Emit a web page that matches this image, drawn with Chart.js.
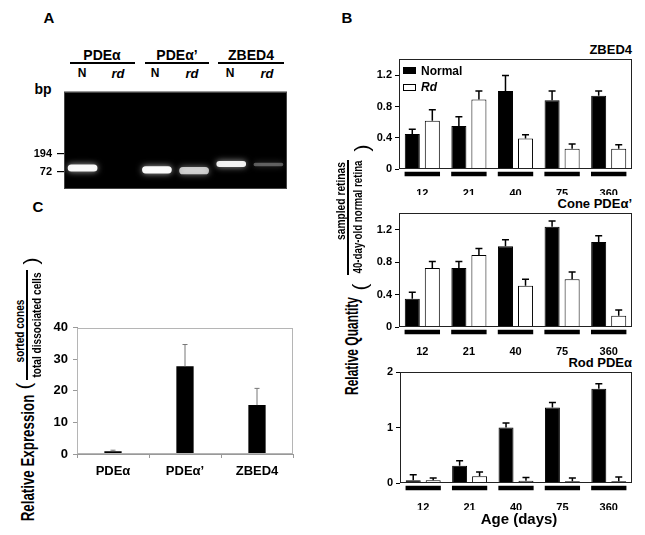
<!DOCTYPE html>
<html>
<head>
<meta charset="utf-8">
<script src="https://cdn.jsdelivr.net/npm/chart.js@4.4.0/dist/chart.umd.min.js"></script>
<style>
html, body { margin: 0; padding: 0; background: #fff; }
#wrap { position: relative; width: 645px; height: 535px; overflow: hidden; font-family: "Liberation Sans", Arial, Helvetica, sans-serif; color: #000; }
canvas { position: absolute; }
.t { position: absolute; white-space: nowrap; font-weight: bold; line-height: 1; transform: translate(-50%, -50%); }
.r { transform: translate(-100%, -50%); }
.l { transform: translate(0, -50%); }
.i { font-style: italic; }
.rule { position: absolute; height: 1.5px; background: #000; }
.vrule { position: absolute; width: 1.5px; background: #000; }
.rot { position: absolute; white-space: nowrap; font-weight: bold; line-height: 1; transform: translate(-50%, -50%) rotate(-90deg); }
.par { font-weight: normal; font-size: 21px; }
.key { position: absolute; width: 13px; height: 7px; border: 1px solid #000; box-sizing: border-box; }
</style>
</head>
<body>
<div id="wrap">
  <!-- panel letters -->
  <div class="t" style="left:49px;top:17px;font-size:15px">A</div>
  <div class="t" style="left:347px;top:17px;font-size:15px">B</div>
  <div class="t" style="left:38px;top:206px;font-size:15px">C</div>

  <!-- panel A header -->
  <div class="t" style="left:102px;top:55px;font-size:14px">PDEα</div>
  <div class="t" style="left:177px;top:55px;font-size:14px">PDEα’</div>
  <div class="t" style="left:251px;top:55px;font-size:14px">ZBED4</div>
  <div class="rule" style="left:70px;top:62px;width:65px"></div>
  <div class="rule" style="left:145px;top:62px;width:64px"></div>
  <div class="rule" style="left:218px;top:62px;width:66px"></div>
  <div class="t" style="left:82px;top:73px;font-size:12px">N</div>
  <div class="t i" style="left:118px;top:73px;font-size:13px">rd</div>
  <div class="t" style="left:155px;top:73px;font-size:12px">N</div>
  <div class="t i" style="left:192px;top:73px;font-size:13px">rd</div>
  <div class="t" style="left:230px;top:73px;font-size:12px">N</div>
  <div class="t i" style="left:267px;top:73px;font-size:13px">rd</div>
  <div class="t" style="left:43px;top:89px;font-size:14px">bp</div>
  <canvas id="gel" width="300" height="120" style="left:0;top:80px"></canvas>

  <!-- panel B -->
  <div class="t r" style="left:632px;top:49px;font-size:13px">ZBED4</div>
  <div class="t r" style="left:632px;top:203px;font-size:13px">Cone PDEα’</div>
  <div class="t r" style="left:632px;top:362px;font-size:13px">Rod PDEα</div>
  <canvas id="zbed" width="275" height="155" style="left:365px;top:40px"></canvas>
  <canvas id="cone" width="275" height="160" style="left:365px;top:195px"></canvas>
  <canvas id="rod" width="274" height="155" style="left:366px;top:355px"></canvas>
  <div class="key" style="left:403px;top:67px;background:#000"></div>
  <div class="t l" style="left:421px;top:71px;font-size:12px">Normal</div>
  <div class="key" style="left:403px;top:84px;background:#fff"></div>
  <div class="t l i" style="left:421px;top:87px;font-size:12px">Rd</div>
  <div class="t" style="left:519px;top:518px;font-size:15px">Age (days)</div>

  <!-- rotated axis title, panel B -->
  <div class="rot" data-len="98" style="left:352px;top:346px;font-size:18px">Relative Quantity</div>
  <div class="rot par" style="left:359px;top:287px">(</div>
  <div class="rot" data-len="78" style="left:340px;top:201px;font-size:13px">sampled retinas</div>
  <div class="vrule" style="left:347px;top:160px;height:115px"></div>
  <div class="rot" data-len="113" style="left:357px;top:217px;font-size:13px">40-day-old normal retina</div>
  <div class="rot par" style="left:361px;top:148px">)</div>

  <!-- panel C -->
  <canvas id="sorted" width="265" height="170" style="left:40px;top:315px"></canvas>
  <div class="rot" data-len="127" style="left:27px;top:458px;font-size:19px">Relative Expression</div>
  <div class="rot par" style="left:23px;top:386px">(</div>
  <div class="rot" data-len="63" style="left:19px;top:331px;font-size:13px">sorted cones</div>
  <div class="vrule" style="left:26px;top:270px;height:110px"></div>
  <div class="rot" data-len="105" style="left:36px;top:325px;font-size:13px">total dissociated cells</div>
  <div class="rot par" style="left:30px;top:261px">)</div>
</div>

<script>
// ---- data: gel (band span in bp, relative brightness) ----
const gelLanes = ['PDEα N', 'PDEα rd', 'PDEα’ N', 'PDEα’ rd', 'ZBED4 N', 'ZBED4 rd'];
const gelBands = [[72, 121], null, [59, 109], [53, 103], [103, 145], [109, 133]];
const gelIntensity = [0.95, 0, 0.97, 0.72, 0.92, 0.32];
const gelTicks = [72, 194];

// ---- data: panel B ----
const ages = ['12', '21', '40', '75', '360'];

const zbedNormal = [0.45, 0.55, 1.0, 0.88, 0.94];
const zbedNormalErr = [0.06, 0.12, 0.2, 0.12, 0.06];
const zbedRd = [0.62, 0.89, 0.39, 0.26, 0.26];
const zbedRdErr = [0.14, 0.11, 0.05, 0.06, 0.05];
const zbedTicks = [0, 0.4, 0.8, 1.2];

const coneNormal = [0.35, 0.73, 1.0, 1.24, 1.05];
const coneNormalErr = [0.08, 0.08, 0.08, 0.07, 0.08];
const coneRd = [0.73, 0.89, 0.51, 0.59, 0.14];
const coneRdErr = [0.08, 0.08, 0.08, 0.09, 0.07];
const coneTicks = [0, 0.4, 0.8, 1.2];

const rodNormal = [0.05, 0.31, 1.0, 1.36, 1.7];
const rodNormalErr = [0.1, 0.09, 0.08, 0.09, 0.09];
const rodRd = [0.05, 0.12, 0.04, 0.03, 0.03];
const rodRdErr = [0.04, 0.08, 0.06, 0.06, 0.08];
const rodTicks = [0, 1, 2];

// ---- data: panel C ----
const sortGenes = ['PDEα', 'PDEα’', 'ZBED4'];
const sortExpr = [0.9, 27.8, 15.5];
const sortErr = [0.3, 6.9, 5.3];
const sortTicks = [0, 10, 20, 30, 40];
const sortMinor = [5, 15, 25, 35];

const FONT = '"Liberation Sans", Arial, Helvetica, sans-serif';

// squeeze rotated axis titles to the length they have in the figure
document.querySelectorAll('.rot[data-len]').forEach(el => {
  const k = parseFloat(el.dataset.len) / el.offsetWidth;
  el.style.transform = `translate(-50%, -50%) rotate(-90deg) scaleX(${k})`;
});

// ---- plugins ----
const errorBars = {
  id: 'errorBars',
  afterDatasetsDraw(chart, args, o) {
    const ctx = chart.ctx;
    const y = chart.scales.y;
    chart.data.datasets.forEach((ds, i) => {
      if (!ds.errors) return;
      chart.getDatasetMeta(i).data.forEach((bar, j) => {
        const top = y.getPixelForValue(ds.data[j] + ds.errors[j]);
        ctx.save();
        ctx.strokeStyle = o.color || '#000';
        ctx.lineWidth = o.width || 1;
        ctx.beginPath();
        ctx.moveTo(bar.x, bar.y);
        ctx.lineTo(bar.x, top);
        ctx.moveTo(bar.x - (o.cap || 3), top);
        ctx.lineTo(bar.x + (o.cap || 3), top);
        ctx.stroke();
        ctx.restore();
      });
    });
  }
};

const frame = {
  id: 'frame',
  beforeDraw(chart, args, o) {
    if (!o.fill) return;
    const a = chart.chartArea;
    chart.ctx.save();
    chart.ctx.fillStyle = o.fill;
    chart.ctx.fillRect(a.left, a.top, a.right - a.left, a.bottom - a.top);
    chart.ctx.restore();
  },
  afterDraw(chart, args, o) {
    if (!o.color) return;
    const a = chart.chartArea;
    const ctx = chart.ctx;
    ctx.save();
    ctx.strokeStyle = o.color;
    ctx.lineWidth = o.width || 1;
    ctx.strokeRect(Math.round(a.left) + 0.5, Math.round(a.top) + 0.5,
      Math.round(a.right - a.left) - 1, Math.round(a.bottom - a.top) - 1);
    ctx.restore();
  }
};

// thick black strip under each age group
const ageStrips = {
  id: 'ageStrips',
  afterDraw(chart, args, o) {
    if (!o.show) return;
    const x = chart.scales.x;
    const ctx = chart.ctx;
    const half = x.width / chart.data.labels.length * 0.38;
    ctx.save();
    ctx.strokeStyle = '#000';
    ctx.lineWidth = 4.5;
    chart.data.labels.forEach((l, i) => {
      const cx = x.getPixelForValue(i);
      ctx.beginPath();
      ctx.moveTo(cx - half, chart.chartArea.bottom + 5);
      ctx.lineTo(cx + half, chart.chartArea.bottom + 5);
      ctx.stroke();
    });
    ctx.restore();
  }
};

const glow = {
  id: 'glow',
  beforeDatasetDraw(chart, args, o) {
    if (!o.blur) return;
    chart.ctx.save();
    chart.ctx.shadowColor = 'rgba(255,255,255,0.7)';
    chart.ctx.shadowBlur = o.blur;
  },
  afterDatasetDraw(chart, args, o) {
    if (o.blur) chart.ctx.restore();
  }
};

Chart.register(errorBars, frame, ageStrips, glow);

// ---- panel A: gel ----
new Chart(document.getElementById('gel'), {
  type: 'bar',
  data: {
    labels: gelLanes,
    datasets: [{
      data: gelBands,
      backgroundColor: gelIntensity.map(a => `rgba(255,255,255,${a})`),
      borderWidth: 0,
      borderRadius: 4,
      borderSkipped: false,
      barPercentage: 0.8,
      categoryPercentage: 1
    }]
  },
  options: {
    responsive: false,
    animation: false,
    events: [],
    layout: { padding: { top: 4, right: 13, bottom: 7, left: 0 } },
    plugins: {
      legend: { display: false },
      tooltip: { enabled: false },
      frame: { fill: '#000', color: '#444' },
      glow: { blur: 6 }
    },
    scales: {
      x: { type: 'category', display: false },
      y: {
        min: -44, max: 621,
        afterBuildTicks: s => { s.ticks = gelTicks.map(v => ({ value: v })); },
        afterFit: s => { s.width = 64; },
        border: { display: false },
        grid: { drawOnChartArea: false, tickLength: 7, color: '#000', lineWidth: 1.2 },
        ticks: { color: '#000', padding: 5, font: { family: FONT, size: 11, weight: 'bold' } }
      }
    }
  }
});

// ---- panel B: three age charts ----
function ageChart(id, normal, normalErr, rd, rdErr, max, tickVals, top, bottom) {
  return new Chart(document.getElementById(id), {
    type: 'bar',
    data: {
      labels: ages,
      datasets: [
        { label: 'Normal', data: normal, errors: normalErr, backgroundColor: '#000', borderColor: '#000', borderWidth: 1 },
        { label: 'Rd', data: rd, errors: rdErr, backgroundColor: '#fff', borderColor: '#000', borderWidth: 1 }
      ]
    },
    options: {
      responsive: false,
      animation: false,
      events: [],
      datasets: { bar: { barPercentage: 0.75, categoryPercentage: 0.86 } },
      layout: { padding: { top: top, right: 8, bottom: 0, left: 0 } },
      plugins: {
        legend: { display: false },
        tooltip: { enabled: false },
        errorBars: { color: '#000', width: 1.5, cap: 3.5 },
        frame: { color: '#222', width: 1 },
        ageStrips: { show: true }
      },
      scales: {
        x: {
          afterFit: s => { s.height = bottom; },
          grid: { display: false },
          border: { display: false },
          ticks: { color: '#000', padding: 10, font: { family: FONT, size: 11, weight: 'bold' } }
        },
        y: {
          min: 0, max: max,
          afterBuildTicks: s => { s.ticks = tickVals.map(v => ({ value: v })); },
          afterFit: s => { s.width = 34; },
          border: { display: false },
          grid: { drawOnChartArea: false, tickLength: 4, color: '#000' },
          ticks: { color: '#000', padding: 3, font: { family: FONT, size: 11, weight: 'bold' },
                   callback: v => String(v) }
        }
      }
    }
  });
}

ageChart('zbed', zbedNormal, zbedNormalErr, zbedRd, zbedRdErr, 1.41, zbedTicks, 19, 26);
ageChart('cone', coneNormal, coneNormalErr, coneRd, coneRdErr, 1.41, coneTicks, 18, 28);
ageChart('rod', rodNormal, rodNormalErr, rodRd, rodRdErr, 2, rodTicks, 17, 27);

// ---- panel C: sorted cones ----
new Chart(document.getElementById('sorted'), {
  type: 'bar',
  data: {
    labels: sortGenes,
    datasets: [{
      data: sortExpr,
      errors: sortErr,
      backgroundColor: '#000',
      barPercentage: 0.24,
      categoryPercentage: 1
    }]
  },
  options: {
    responsive: false,
    animation: false,
    events: [],
    layout: { padding: { top: 12, right: 12, bottom: 0, left: 0 } },
    plugins: {
      legend: { display: false },
      tooltip: { enabled: false },
      errorBars: { color: '#777', width: 1, cap: 2.5 },
      frame: { color: '#b5b5b5', width: 1 }
    },
    scales: {
      x: {
        afterFit: s => { s.height = 31; },
        border: { display: true, color: '#999' },
        grid: { drawOnChartArea: false, tickLength: 4, color: '#999', offset: true },
        ticks: { color: '#000', padding: 6, font: { family: FONT, size: 13, weight: 'bold' } }
      },
      y: {
        min: 0, max: 40,
        afterBuildTicks: s => {
          s.ticks = sortTicks.concat(sortMinor).sort((a, b) => a - b).map(v => ({ value: v }));
        },
        afterFit: s => { s.width = 37; },
        border: { display: true, color: '#999' },
        grid: { drawOnChartArea: false, tickLength: 4, color: '#999' },
        ticks: { color: '#000', padding: 5, font: { family: FONT, size: 13, weight: 'bold' },
                 callback: v => (sortTicks.includes(v) ? String(v) : '') }
      }
    }
  }
});
</script>
</body>
</html>
